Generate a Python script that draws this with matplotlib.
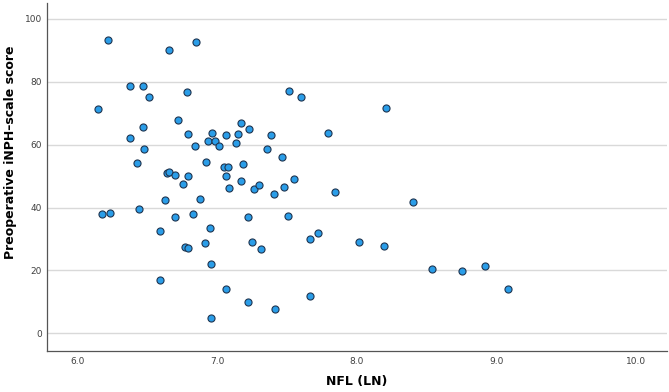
import matplotlib.pyplot as plt
import numpy as np

plt.rcParams["font.family"] = "DejaVu Sans"

# NFL (LN) values and preoperative iNPH-scale scores
nfl = [
    6.217, 6.656, 6.852, 6.148, 6.379, 6.467, 6.513, 6.785, 6.467, 6.718,
    6.375, 6.480, 6.790, 6.845, 6.933, 6.964, 6.988, 7.011, 7.067, 7.133,
    7.150, 7.172, 7.231, 7.358, 7.387, 7.513, 7.604, 7.795, 6.429, 6.921,
    6.640, 6.654, 6.697, 6.792, 6.759, 7.052, 7.081, 7.062, 7.088, 7.172,
    7.183, 7.264, 7.297, 7.407, 7.467, 7.476, 7.551, 7.847, 6.625, 6.878,
    8.212, 8.403,
    6.174, 6.236, 6.439, 6.699, 6.825, 7.224, 7.505, 6.592, 6.952, 6.770,
    6.790, 6.914, 7.253, 7.315, 7.663, 7.723, 6.959, 6.592, 7.062, 7.224,
    7.412, 7.665, 6.955,
    8.019, 8.198, 8.539, 8.751, 8.916, 9.080,
]
score = [
    93.3, 90.1, 92.8, 71.3, 78.5, 78.7, 75.1, 76.7, 65.7, 68.0,
    62.0, 58.5, 63.5, 59.7, 61.2, 63.7, 61.2, 59.6, 63.2, 60.4,
    63.5, 67.0, 65.0, 58.7, 63.2, 77.2, 75.0, 63.7, 54.2, 54.4,
    51.0, 51.3, 50.4, 50.0, 47.5, 53.0, 53.0, 50.0, 46.3, 48.6,
    54.0, 45.8, 47.3, 44.2, 56.0, 46.5, 49.0, 44.9, 42.4, 42.6,
    71.6, 41.7,
    38.0, 38.4, 39.5, 37.1, 37.9, 37.0, 37.3, 32.5, 33.4, 27.4,
    27.2, 28.8, 29.0, 26.7, 30.0, 31.9, 22.0, 17.0, 14.2, 9.9,
    7.9, 12.0, 5.0,
    29.0, 27.8, 20.5, 19.8, 21.5, 14.0,
]
x_ticks = [6.0, 7.0, 8.0, 9.0, 10.0]
y_ticks = [0, 20, 40, 60, 80, 100]

fig = plt.figure(figsize=(6.69, 3.92), dpi=100)
ax = fig.add_axes([0.0698, 0.1054, 0.927, 0.8866])

ax.scatter(nfl, score, s=26, color="#2A9DE8", edgecolors="#1F3550",
           linewidths=0.8, zorder=3)

ax.set_xlim(5.78, 10.22)
ax.set_ylim(-5.5, 105)
ax.set_xticks(x_ticks)
ax.set_xticklabels([f"{t:.1f}" for t in x_ticks])
ax.set_yticks(y_ticks)
ax.yaxis.grid(True, color="#D9D9D9", linewidth=1.0, zorder=0)
ax.set_axisbelow(True)
ax.tick_params(length=0, labelsize=6.5, labelcolor="#404040")
ax.tick_params(axis="x", pad=4.5)
ax.tick_params(axis="y", pad=3.5)

for side in ["top", "right"]:
    ax.spines[side].set_visible(False)
for side in ["left", "bottom"]:
    ax.spines[side].set_color("#555555")
    ax.spines[side].set_linewidth(0.9)

ax.set_xlabel("NFL (LN)", fontsize=9, fontweight="bold")
ax.set_ylabel("Preoperative iNPH\u2013scale score", fontsize=9,
              fontweight="bold")
ax.xaxis.label.set_va("center")
ax.yaxis.label.set_va("center")
ax.xaxis.set_label_coords(0.5, -0.090)
ax.yaxis.set_label_coords(-0.059, 0.57)

fig.savefig("out.png", dpi=100)
